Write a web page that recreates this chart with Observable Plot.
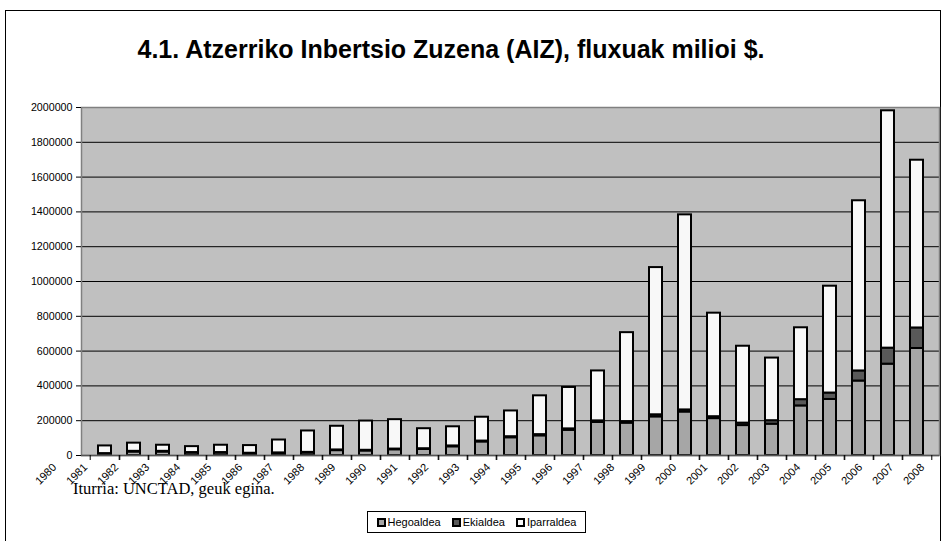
<!DOCTYPE html>
<html><head><meta charset="utf-8">
<script src="https://cdn.jsdelivr.net/npm/d3@7"></script>
<script src="https://cdn.jsdelivr.net/npm/@observablehq/plot@0.6"></script>
<style>
body{margin:0;background:#fff;}
#wrap{position:relative;width:945px;height:541px;overflow:hidden;font-family:"Liberation Sans",Arial,sans-serif;background:#fff;}
#frame{position:absolute;left:5px;top:10px;width:936px;height:540px;border:1px solid #000;box-sizing:border-box;}
#title{position:absolute;left:0;width:902px;top:34px;text-align:center;font-weight:bold;font-size:25px;line-height:30px;color:#000;}
#chart{position:absolute;left:0;top:0;}
#labels{position:absolute;left:0;top:0;width:965px;}
#labels svg{max-width:none !important;}
#caption{position:absolute;left:73px;top:479px;font-family:"Liberation Serif",serif;font-size:16.5px;color:#000;}
#legend{position:absolute;left:367px;top:511px;width:219px;height:22px;border:1px solid #000;box-sizing:border-box;display:flex;align-items:center;justify-content:center;font-size:11px;gap:11px;background:#fff;}
#legend span.item{display:flex;align-items:center;}
#legend i{display:inline-block;width:5px;height:5px;border:2px solid #000;margin-right:2px;}
</style></head>
<body>
<div id="wrap">
  <div id="frame"></div>
  <div id="title">4.1. Atzerriko Inbertsio Zuzena (AIZ), fluxuak milioi $.</div>
  <div id="chart"></div>
  <div id="labels"></div>
  <div id="caption">Iturria: UNCTAD, geuk egina.</div>
  <div id="legend"></div>
</div>
<script>
const years = ["1980","1981","1982","1983","1984","1985","1986","1987","1988","1989","1990","1991","1992","1993","1994","1995","1996","1997","1998","1999","2000","2001","2002","2003","2004","2005","2006","2007","2008"];
const seriesNames = ["Hegoaldea","Ekialdea","Iparraldea"];
const seriesColors = ["#a6a6a6","#595959","#f8f8f8"];
const hegoaldea = [8000,20000,20000,14000,14000,10000,12000,14000,28000,26000,33000,35000,50000,78000,102000,113000,145000,190000,186000,222000,250000,212000,172000,180000,285000,322000,428000,525000,615000];
const ekialdea = [3000,4000,4000,3000,3000,3000,3000,4000,4000,4000,4000,4000,5000,5000,6000,7000,8000,9000,9000,12000,12000,11000,14000,20000,36000,37000,58000,92000,118000];
const iparraldea = [44000,47000,35000,34000,42000,44000,74000,123000,136000,168000,169000,115000,110000,137000,148000,223000,238000,287000,511000,846000,1121000,595000,442000,360000,413000,614000,978000,1364000,964000];
const yTicks = [0,200000,400000,600000,800000,1000000,1200000,1400000,1600000,1800000,2000000];

const seriesValues = [hegoaldea, ekialdea, iparraldea];
const rows = [];
years.forEach((yr, i) => {
  seriesNames.forEach((s, k) => rows.push({year: yr, series: s, value: seriesValues[k][i]}));
});

const W = 945, H = 490, mL = 81, mR = 6, mT = 107, mB = 35;
const step = (W - mL - mR) / years.length;
const font = "'Liberation Sans', Arial, sans-serif";

const chart = Plot.plot({
  width: W, height: H,
  marginLeft: mL, marginRight: mR, marginTop: mT, marginBottom: mB,
  style: {fontFamily: font, fontSize: "10.7px", background: "transparent", color: "#000"},
  x: {type: "band", domain: years, paddingInner: 0.56, paddingOuter: 0.28, label: null},
  y: {domain: [0, 2000000], label: null},
  color: {domain: seriesNames, range: seriesColors},
  marks: [
    Plot.frame({fill: "#c0c0c0", stroke: null}),
    Plot.ruleY(yTicks.slice(1), {stroke: "#000", strokeWidth: 1}),
    Plot.barY(rows, {x: "year", y: "value", fill: "series", stroke: "#000", strokeWidth: 2}),
    Plot.frame({stroke: "#808080", strokeWidth: 1.5}),
    Plot.ruleY([0], {stroke: "#555", strokeWidth: 1.5}),
    Plot.axisY({ticks: yTicks, tickFormat: d3.format("d"), tickSize: 5, tickPadding: 4, label: null}),
    Plot.axisX({tickSize: 5, tickFormat: () => "", dx: -step / 2, label: null}),
    Plot.axisX({tickSize: 5, tickFormat: () => "", dx: step / 2, label: null})
  ]
});
document.getElementById("chart").appendChild(chart);

// category labels, spread a little wider than the bars as in the original
const labels = Plot.plot({
  width: W + 20, height: H,
  marginLeft: 24, marginRight: 13, marginTop: mT, marginBottom: mB,
  style: {fontFamily: font, fontSize: "11px", background: "transparent", color: "#000", maxWidth: "none"},
  x: {type: "band", domain: years, label: null},
  marks: [
    Plot.axisX({tickSize: 0, tickRotate: -45, tickPadding: 10, label: null})
  ]
});
document.getElementById("labels").appendChild(labels);

const legend = document.getElementById("legend");
seriesNames.forEach((s, k) => {
  const item = document.createElement("span");
  item.className = "item";
  const sw = document.createElement("i");
  sw.style.background = seriesColors[k];
  item.appendChild(sw);
  item.appendChild(document.createTextNode(s));
  legend.appendChild(item);
});
</script>
</body></html>
